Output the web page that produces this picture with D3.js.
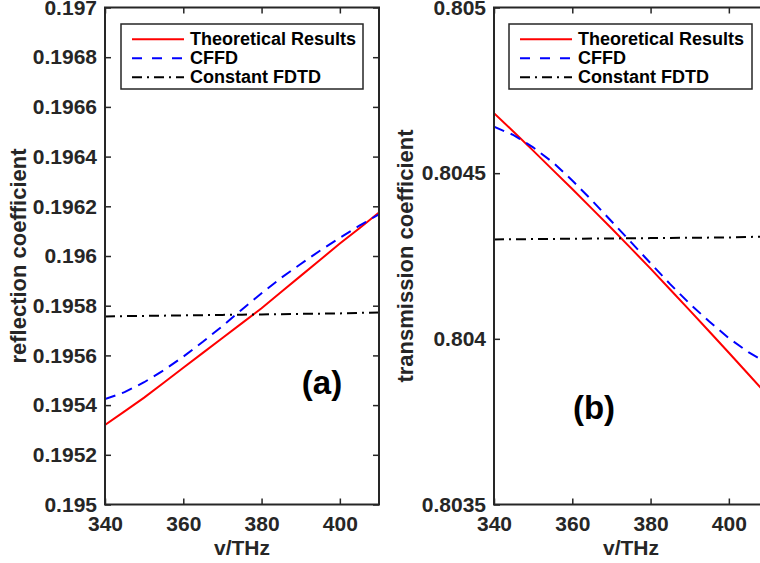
<!DOCTYPE html>
<html><head><meta charset="utf-8">
<script src="https://cdn.jsdelivr.net/npm/d3@7"></script>
<style>
body{margin:0;background:#fff;}
svg text{font-family:"Liberation Sans",Arial,Helvetica,sans-serif;font-weight:bold;}
</style></head><body>
<svg id="chart" width="760" height="563"></svg>
<script>
// ---------- data ----------
const freq = [340,345,350,355,360,365,370,375,380,385,390,395,400,405,410];

// panel (a): reflection coefficient
const theoryA = [0.19532,0.195375,0.19543,0.19549,0.19555,0.19561,0.19567,0.19573,0.19579,0.195855,0.19592,0.195985,0.19605,0.196112,0.196175];
const cffdA   = [0.195424,0.195452,0.195492,0.19554,0.195595,0.195655,0.195718,0.195785,0.19585,0.195912,0.195968,0.196022,0.196073,0.196122,0.196168];
const fdtdA   = [0.195757,0.195758,0.195759,0.19576,0.195761,0.195762,0.195763,0.195764,0.195765,0.195766,0.195767,0.195768,0.195769,0.195771,0.195773];

// panel (b): transmission coefficient
const theoryB = [0.804681,0.804625,0.804568,0.80451,0.804452,0.804393,0.804334,0.804273,0.804212,0.804149,0.804086,0.804022,0.803958,0.803893,0.803828];
const cffdB   = [0.80464,0.804615,0.804578,0.804533,0.804478,0.804418,0.804355,0.804292,0.804228,0.804165,0.804106,0.804052,0.804002,0.80396,0.803925];
const fdtdB   = [0.8043,0.8043005,0.804301,0.8043015,0.804302,0.8043025,0.804303,0.8043035,0.804304,0.8043045,0.804305,0.8043055,0.804306,0.8043075,0.804309];

const xTicks = [340,360,380,400];
const yTicksA = [0.195,0.1952,0.1954,0.1956,0.1958,0.196,0.1962,0.1964,0.1966,0.1968,0.197];
const yLabelsA = ["0.195","0.1952","0.1954","0.1956","0.1958","0.196","0.1962","0.1964","0.1966","0.1968","0.197"];
const yTicksB = [0.8035,0.804,0.8045,0.805];
const yLabelsB = ["0.8035","0.804","0.8045","0.805"];

const seriesNames = ["Theoretical Results","CFFD","Constant FDTD"];
const seriesColors = ["#ff0000","#0000ff","#000000"];

// ---------- drawing ----------
const svg = d3.select("#chart");
const plotTop = 7.5, plotBottom = 504.5;
const axisColor = "#262626";
const lineDash = [null, "11,7", "10,5,2,5"];
const legendDash = [null, "10,10", "10,5,2,5"];

const panels = [
  {id:"a", left:105, right:379, yDomain:[0.195,0.197], yTicks:yTicksA, yLabels:yLabelsA,
   ylabel:"reflection coefficient", ylabelX:26, data:[theoryA,cffdA,fdtdA],
   legendX:121, legendW:242, tag:"(a)", tagX:322, tagY:394},
  {id:"b", left:494, right:768, yDomain:[0.8035,0.805], yTicks:yTicksB, yLabels:yLabelsB,
   ylabel:"transmission coefficient", ylabelX:413, data:[theoryB,cffdB,fdtdB],
   legendX:509, legendW:243, tag:"(b)", tagX:594, tagY:419}
];

panels.forEach(p => {
  const x = d3.scaleLinear().domain([340,410]).range([p.left,p.right]);
  const y = d3.scaleLinear().domain(p.yDomain).range([plotBottom, plotTop]);
  const g = svg.append("g");

  g.append("clipPath").attr("id","clip-"+p.id)
    .append("rect").attr("x",p.left).attr("y",plotTop).attr("width",p.right-p.left).attr("height",plotBottom-plotTop);

  // series
  const line = d3.line().x((d,i)=>x(freq[i])).y(d=>y(d));
  p.data.forEach((vals,k) => {
    g.append("path").attr("d", line(vals))
      .attr("fill","none").attr("stroke",seriesColors[k]).attr("stroke-width",2)
      .attr("stroke-dasharray", lineDash[k])
      .attr("clip-path","url(#clip-"+p.id+")");
  });

  // axes
  const styleAxis = (sel) => {
    sel.attr("color",axisColor).attr("font-size",null).attr("font-family",null);
    sel.select(".domain").remove();
    sel.selectAll(".tick line").attr("stroke-width",1.5);
    sel.selectAll("text").style("font-size","21px").attr("fill",axisColor);
  };
  g.append("g").attr("transform",`translate(0,${plotBottom})`)
    .call(d3.axisBottom(x).tickValues(xTicks).tickSize(-6).tickPadding(12).tickFormat(d3.format("d")))
    .call(styleAxis);
  g.append("g").attr("transform",`translate(0,${plotTop})`)
    .call(d3.axisTop(x).tickValues(xTicks).tickSize(-6).tickFormat(""))
    .call(styleAxis);
  g.append("g").attr("transform",`translate(${p.left},0)`)
    .call(d3.axisLeft(y).tickValues(p.yTicks).tickSize(-6).tickPadding(8).tickFormat((d,i)=>p.yLabels[i]))
    .call(styleAxis);
  g.append("g").attr("transform",`translate(${p.right},0)`)
    .call(d3.axisRight(y).tickValues(p.yTicks).tickSize(-6).tickFormat(""))
    .call(styleAxis);

  g.append("rect").attr("x",p.left).attr("y",plotTop).attr("width",p.right-p.left).attr("height",plotBottom-plotTop)
    .attr("fill","none").attr("stroke",axisColor).attr("stroke-width",2);

  // axis labels
  g.append("text").attr("x",(p.left+p.right)/2).attr("y",555).attr("text-anchor","middle")
    .style("font-size","21px").attr("fill",axisColor).text("v/THz");
  g.append("text").attr("transform",`translate(${p.ylabelX},${(plotTop+plotBottom)/2}) rotate(-90)`)
    .attr("text-anchor","middle").style("font-size","22px").attr("fill",axisColor).text(p.ylabel);

  // panel tag
  g.append("text").attr("x",p.tagX).attr("y",p.tagY).attr("text-anchor","middle")
    .style("font-size","33px").attr("fill","#000").text(p.tag);

  // legend
  const lg = g.append("g");
  lg.append("rect").attr("x",p.legendX).attr("y",24).attr("width",p.legendW).attr("height",65)
    .attr("fill","#fff").attr("stroke",axisColor).attr("stroke-width",1.5);
  seriesNames.forEach((name,k) => {
    const ly = 39.3 + k*19;
    lg.append("line").attr("x1",p.legendX+11).attr("x2",p.legendX+63).attr("y1",ly).attr("y2",ly)
      .attr("stroke",seriesColors[k]).attr("stroke-width",2).attr("stroke-dasharray",legendDash[k]);
    lg.append("text").attr("x",p.legendX+69).attr("y",ly+6).style("font-size","18px")
      .attr("fill","#000").text(name);
  });
});
</script>
</body></html>
